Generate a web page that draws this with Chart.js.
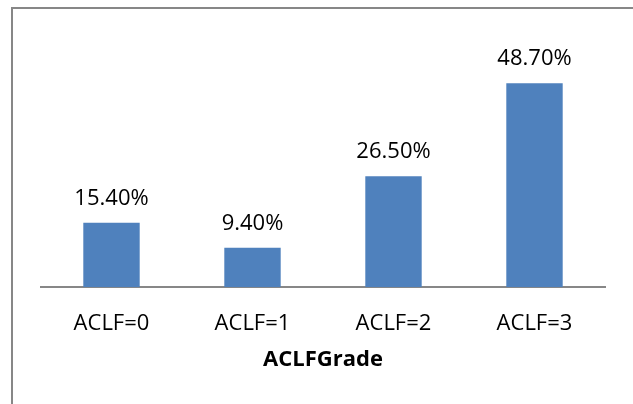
<!DOCTYPE html>
<html>
<head>
<meta charset="utf-8">
<script src="https://cdn.jsdelivr.net/npm/chart.js@4/dist/chart.umd.min.js"></script>
<style>
  html, body { margin: 0; padding: 0; background: #fff; overflow: hidden; }
  #wrap { position: relative; width: 633px; height: 404px; }
  #frame { position: absolute; left: 11px; top: 7px; width: 660px; height: 440px;
           border: 2px solid #878787; box-sizing: border-box; }
  canvas { position: absolute; left: 0; top: 0; }
</style>
</head>
<body>
<div id="wrap">
  <div id="frame"></div>
  <canvas id="c" width="633" height="404"></canvas>
</div>
<script>
const categories = ["ACLF=0", "ACLF=1", "ACLF=2", "ACLF=3"];
const percentValues = [15.4, 9.4, 26.5, 48.7];
const axisTitle = "ACLFGrade";

const FONT = "'Open Sans', 'Liberation Sans', sans-serif";

// Writes each bar's percentage just above it
const valueLabels = {
  id: "valueLabels",
  afterDatasetsDraw(chart) {
    const ctx = chart.ctx;
    const meta = chart.getDatasetMeta(0);
    ctx.save();
    ctx.font = "22px " + FONT;
    ctx.fillStyle = "#000";
    ctx.textAlign = "center";
    ctx.textBaseline = "alphabetic";
    meta.data.forEach((bar, i) => {
      ctx.fillText(percentValues[i].toFixed(2) + "%", bar.x, bar.y - 18);
    });
    ctx.restore();
  }
};

new Chart(document.getElementById("c"), {
  type: "bar",
  data: {
    labels: categories,
    datasets: [{
      data: percentValues,
      backgroundColor: "#4F81BD",
      borderWidth: 0,
      categoryPercentage: 1.0,
      barPercentage: 0.4
    }]
  },
  options: {
    responsive: false,
    animation: false,
    devicePixelRatio: 1,
    layout: { padding: { left: 41, right: 28, top: 36, bottom: 31 } },
    plugins: { legend: { display: false }, tooltip: { enabled: false } },
    scales: {
      y: { display: false, min: 0, max: 60 },
      x: {
        grid: { display: false, drawTicks: false },
        border: { display: true, color: "#878787", width: 2 },
        ticks: { color: "#000", font: { family: FONT, size: 22 }, padding: 23 },
        title: {
          display: true,
          text: axisTitle,
          color: "#000",
          font: { family: FONT, size: 22, weight: "bold" },
          padding: { top: -13, bottom: 0 }
        }
      }
    }
  },
  plugins: [valueLabels]
});
</script>
</body>
</html>
